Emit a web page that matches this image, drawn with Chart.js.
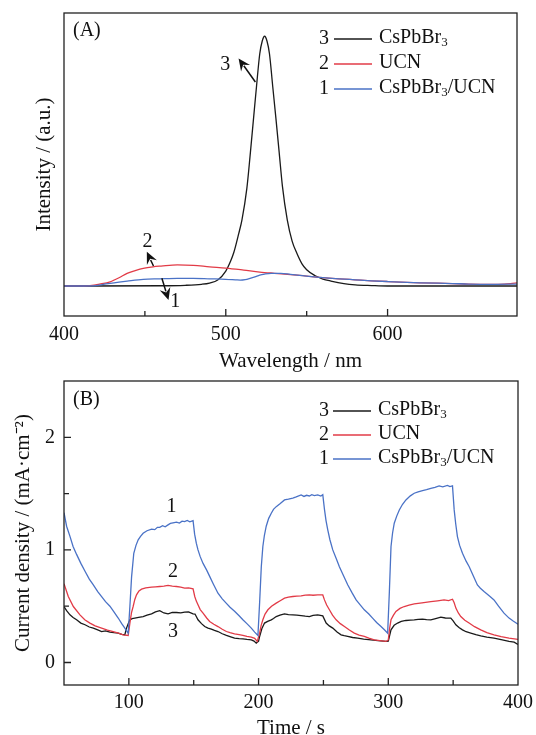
<!DOCTYPE html>
<html>
<head>
<meta charset="utf-8">
<script src="https://cdn.jsdelivr.net/npm/chart.js@4.4.1/dist/chart.umd.min.js"></script>
<style>
html, body { margin: 0; padding: 0; background: #fff; }
#wrapA { position: absolute; left: 0; top: 0; width: 536px; height: 376px; }
#wrapB { position: absolute; left: 0; top: 368px; width: 536px; height: 367px; }
</style>
</head>
<body>
<div id="wrapA"><canvas id="chartA"></canvas></div>
<div id="wrapB"><canvas id="chartB"></canvas></div>
<script>
// ---- (A) PL spectra ----
const plBlackX = [400, 460, 475, 485, 490, 495, 500, 503, 505, 508, 510, 513, 515, 517, 519, 521, 522.5, 524, 525.5, 527, 529, 531, 533, 535, 538, 541, 544, 547, 550, 555, 560, 565, 573, 580, 590, 600, 680];
const plBlackY = [0, 0.001, 0.003, 0.007, 0.012, 0.024, 0.06, 0.1, 0.135, 0.21, 0.265, 0.39, 0.52, 0.66, 0.8, 0.93, 0.98, 1.0, 0.98, 0.93, 0.8, 0.67, 0.535, 0.4, 0.265, 0.18, 0.13, 0.09, 0.065, 0.042, 0.028, 0.02, 0.01, 0.005, 0.002, 0, 0];

const plRedX = [400, 410, 416, 422, 428.5, 434, 439, 444, 449, 455, 460, 470, 480, 490, 500, 511, 521, 530, 540, 550, 558, 570, 580, 590, 600, 620, 640, 650, 665, 672, 676, 680];
const plRedY = [0, 0, 0.002, 0.008, 0.017, 0.033, 0.051, 0.062, 0.071, 0.077, 0.08, 0.085, 0.083, 0.077, 0.072, 0.064, 0.056, 0.051, 0.046, 0.04, 0.035, 0.029, 0.025, 0.021, 0.018, 0.013, 0.01, 0.008, 0.007, 0.008, 0.01, 0.013];

const plBlueX = [400, 418, 423, 428.5, 434, 439, 449, 459, 470, 480, 490, 500, 506, 509, 512, 515, 518, 521, 524, 528, 534, 540, 550, 558, 570, 580, 590, 600, 620, 640, 650, 665, 680];
const plBlueY = [0, 0.001, 0.005, 0.011, 0.016, 0.02, 0.027, 0.029, 0.031, 0.031, 0.029, 0.027, 0.025, 0.024, 0.026, 0.031, 0.037, 0.044, 0.048, 0.051, 0.051, 0.047, 0.04, 0.035, 0.029, 0.025, 0.021, 0.018, 0.013, 0.01, 0.008, 0.007, 0.008];

// ---- (B) photocurrent ----
const jBlueT = [50, 52, 54.6, 57, 59.7, 63, 66.2, 69.5, 72.6, 76, 79, 82, 85.4, 88.5, 91.8, 94.5, 96.9, 99.5,
  100.8, 102.1, 103.8, 105.5, 107.2, 109, 111, 114, 117.5, 120, 122, 123.8, 126, 128, 130.2, 132, 134, 136.7, 139, 141, 143, 145, 147, 149.5,
  150.7, 152, 153.3, 155, 157.2, 160, 162.3, 165, 168.7, 172, 175.2, 178, 181.5, 185, 187.9, 191, 194.4, 197, 199.5,
  200.8, 202.1, 203.3, 204.5, 205.9, 207.8, 209.8, 211.5, 213.6, 216.5, 220, 223, 226.4, 229, 232.8, 235, 237, 239.2, 241, 243, 245.6, 248, 249.5,
  250.8, 252, 253.3, 255, 257.2, 260, 262.3, 265.5, 268.7, 272, 275.2, 278.5, 281.5, 285, 287.9, 291, 294.4, 297, 299.5,
  300.8, 302.1, 303.3, 304.6, 306.5, 308.5, 311, 313.6, 317, 320, 323, 326.4, 329.5, 332.8, 336, 339.2, 342, 345.6, 347.5, 349.5,
  350.8, 352, 353.3, 355, 357.2, 360, 362.3, 365.5, 368.7, 371, 373.8, 378, 381.5, 385, 389.2, 393.1, 396, 400];
const jBlue = [1.33, 1.21, 1.12, 1.03, 0.96, 0.88, 0.81, 0.74, 0.69, 0.63, 0.585, 0.54, 0.50, 0.45, 0.395, 0.345, 0.305, 0.26,
  0.50, 0.76, 0.97, 1.04, 1.09, 1.12, 1.148, 1.17, 1.185, 1.18, 1.20, 1.2, 1.215, 1.205, 1.222, 1.235, 1.24, 1.246, 1.238, 1.255, 1.251, 1.262, 1.25, 1.26,
  1.14, 1.06, 1.0, 0.94, 0.88, 0.82, 0.765, 0.70, 0.615, 0.565, 0.525, 0.49, 0.455, 0.415, 0.38, 0.345, 0.305, 0.27, 0.24,
  0.53, 0.85, 1.03, 1.13, 1.21, 1.28, 1.326, 1.36, 1.384, 1.41, 1.444, 1.45, 1.46, 1.47, 1.488, 1.475, 1.485, 1.479, 1.49, 1.482, 1.488, 1.478, 1.49,
  1.36, 1.26, 1.18, 1.09, 1.0, 0.92, 0.85, 0.77, 0.69, 0.62, 0.556, 0.51, 0.468, 0.43, 0.394, 0.355, 0.32, 0.29, 0.26,
  0.62, 1.03, 1.15, 1.237, 1.3, 1.355, 1.405, 1.444, 1.48, 1.503, 1.515, 1.526, 1.535, 1.547, 1.555, 1.568, 1.56, 1.572, 1.562, 1.568,
  1.355, 1.23, 1.118, 1.04, 0.97, 0.9, 0.852, 0.77, 0.689, 0.66, 0.63, 0.59, 0.556, 0.5, 0.438, 0.394, 0.37, 0.34];

const jRedT = [50, 53.3, 57.2, 62.3, 66, 70, 74, 79, 83.5, 87.9, 92, 95.6, 99.5,
  100.8, 102, 103.3, 104.6, 105.9, 107.8, 109.8, 113, 117.5, 120.5, 123.8, 127, 130.2, 133.5, 136.7, 140, 143, 146, 149.5,
  150.8, 152, 153.3, 155, 157.2, 160, 162.3, 165.5, 168.7, 172, 175.2, 178, 181.5, 185, 187.9, 191, 194.4, 197, 199,
  200.8, 202, 203.3, 205, 207.2, 210, 213.6, 217, 220, 223, 226.4, 229.5, 232.8, 236, 239.2, 242, 245.6, 249.5,
  250.8, 252.5, 254.6, 257, 259.8, 263, 266.2, 270, 273.8, 277.5, 281.5, 285, 289.2, 293.5, 298.2,
  300, 301, 302.1, 304, 305.9, 309, 312.3, 316, 320, 326, 332.8, 338, 343, 346.5, 349.5,
  350.8, 352.1, 354, 355.9, 359, 362.3, 366.5, 371.3, 376, 381.5, 387, 393.1, 400];
const jRed = [0.70, 0.586, 0.497, 0.423, 0.38, 0.35, 0.325, 0.305, 0.288, 0.275, 0.26, 0.246, 0.24,
  0.35, 0.44, 0.497, 0.56, 0.601, 0.635, 0.651, 0.662, 0.669, 0.672, 0.675, 0.678, 0.684, 0.678, 0.675, 0.67, 0.66, 0.662, 0.654,
  0.586, 0.545, 0.512, 0.47, 0.438, 0.395, 0.364, 0.34, 0.319, 0.295, 0.275, 0.265, 0.255, 0.247, 0.24, 0.232, 0.225, 0.215, 0.187,
  0.261, 0.33, 0.379, 0.43, 0.468, 0.5, 0.527, 0.55, 0.571, 0.58, 0.586, 0.59, 0.592, 0.598, 0.601, 0.597, 0.601, 0.6,
  0.556, 0.51, 0.468, 0.42, 0.379, 0.345, 0.319, 0.288, 0.261, 0.244, 0.231, 0.216, 0.201, 0.195, 0.187,
  0.2, 0.3, 0.379, 0.42, 0.453, 0.48, 0.497, 0.51, 0.521, 0.53, 0.541, 0.548, 0.556, 0.55, 0.562,
  0.53, 0.483, 0.44, 0.408, 0.375, 0.35, 0.318, 0.29, 0.265, 0.246, 0.23, 0.216, 0.205];

const jBlackT = [50, 52, 54.6, 57, 59.7, 63, 66.2, 69.5, 72.6, 76, 79, 82, 85.4, 88.5, 91.8, 94.5, 96.9,
  98.2, 99.5, 100.8, 102.5, 104.6, 107.5, 111, 114, 117.5, 120.5, 123.8, 127, 130.2, 133.5, 136.7, 140, 143, 146, 149.5,
  151, 153.3, 156, 158.5, 161, 163.6, 166, 168.7, 172, 175.2, 178.5, 181.5, 185, 187.9, 191, 194.4, 196.5, 198.2,
  200, 200.8, 202.5, 204.6, 207, 209.8, 211.5, 213.6, 216.5, 220, 223, 226.4, 229.5, 232.8, 236, 239.2, 242, 245.6, 249.5,
  252.1, 254.5, 257.2, 260.5, 263.6, 266, 268.7, 272.5, 276.4, 281, 286.7, 292, 298.2,
  300, 302.1, 304.5, 307.2, 310, 313.6, 317, 320, 323, 326.4, 329.5, 332.8, 336.5, 340.5, 344, 348.2,
  350, 352.1, 354.5, 357.2, 360, 363.6, 367.5, 371.3, 376, 381.5, 387, 393.1, 397, 400];
const jBlack = [0.497, 0.46, 0.423, 0.4, 0.379, 0.35, 0.335, 0.315, 0.305, 0.29, 0.275, 0.28, 0.27, 0.265, 0.261, 0.25, 0.246,
  0.305, 0.345, 0.379, 0.39, 0.394, 0.4, 0.408, 0.42, 0.432, 0.45, 0.461, 0.44, 0.432, 0.445, 0.444, 0.44, 0.447, 0.45, 0.432,
  0.43, 0.379, 0.345, 0.319, 0.305, 0.296, 0.285, 0.275, 0.255, 0.24, 0.228, 0.216, 0.212, 0.21, 0.205, 0.201, 0.19, 0.172,
  0.19, 0.231, 0.3, 0.35, 0.365, 0.379, 0.39, 0.408, 0.42, 0.432, 0.425, 0.423, 0.42, 0.417, 0.412, 0.408, 0.418, 0.423, 0.414,
  0.35, 0.325, 0.305, 0.27, 0.246, 0.238, 0.231, 0.222, 0.216, 0.208, 0.201, 0.195, 0.187,
  0.19, 0.29, 0.33, 0.35, 0.365, 0.373, 0.377, 0.379, 0.382, 0.385, 0.38, 0.379, 0.39, 0.402, 0.395, 0.394,
  0.37, 0.335, 0.31, 0.29, 0.273, 0.261, 0.248, 0.237, 0.226, 0.216, 0.203, 0.187, 0.18, 0.16];

const seriesNames = ['CsPbBr_3', 'UCN', 'CsPbBr_3/UCN'];
const seriesNums = ['3', '2', '1'];

const BLACK = '#1a1a1a';
const RED = '#e23b47';
const BLUE = '#4a72c6';
const FAM = '"Liberation Serif", "Times New Roman", serif';

Chart.defaults.font.family = FAM;
Chart.defaults.font.size = 20;
Chart.defaults.color = '#111';

function pts(xs, ys) {
  return xs.map((x, i) => ({ x: x, y: ys[i] }));
}

// text with "_3" style subscripts
function richText(ctx, str, x, y, size) {
  str.split(/(_\d)/).forEach(p => {
    if (!p) return;
    if (p[0] === '_') {
      ctx.font = Math.round(size * 0.65) + 'px ' + FAM;
      ctx.fillText(p[1], x, y + size * 0.25);
      x += ctx.measureText(p[1]).width;
    } else {
      ctx.font = size + 'px ' + FAM;
      ctx.fillText(p, x, y);
      x += ctx.measureText(p).width;
    }
  });
}

const deco = {
  id: 'deco',
  afterDraw(chart, args, o) {
    const ctx = chart.ctx;
    const a = chart.chartArea;
    const sx = chart.scales.x, sy = chart.scales.y;
    ctx.save();
    ctx.strokeStyle = '#222';
    ctx.lineWidth = 1.3;
    ctx.strokeRect(a.left, a.top, a.right - a.left, a.bottom - a.top);

    // inward ticks
    ctx.beginPath();
    sx.ticks.forEach(t => {
      const v = t.value;
      if (v % 50 !== 0 || v <= sx.min || v >= sx.max) return;
      const px = sx.getPixelForValue(v);
      const len = v % 100 === 0 ? 7 : 5;
      ctx.moveTo(px, a.bottom);
      ctx.lineTo(px, a.bottom - len);
    });
    if (o.yTicks) {
      sy.ticks.forEach(t => {
        const v = t.value;
        if (Math.abs(v * 2 - Math.round(v * 2)) > 1e-6 || v <= sy.min || v >= sy.max) return;
        const py = sy.getPixelForValue(v);
        const len = Math.abs(v - Math.round(v)) < 1e-6 ? 7 : 5;
        ctx.moveTo(a.left, py);
        ctx.lineTo(a.left + len, py);
      });
    }
    ctx.stroke();

    ctx.fillStyle = '#111';
    ctx.textBaseline = 'middle';

    // panel tag
    ctx.font = '20px ' + FAM;
    ctx.textAlign = 'left';
    ctx.fillText(o.tag, a.left + 9, a.top + o.tagDy);

    // legend
    const lg = o.legend;
    chart.data.datasets.slice().reverse().forEach((ds, i) => {
      const y = a.top + lg.rows[i];
      ctx.textAlign = 'right';
      ctx.font = '20px ' + FAM;
      ctx.fillText(seriesNums[i], lg.numX, y + 1);
      ctx.strokeStyle = ds.borderColor;
      ctx.lineWidth = 1.5;
      ctx.beginPath();
      ctx.moveTo(lg.x1, y + 1);
      ctx.lineTo(lg.x2, y + 1);
      ctx.stroke();
      ctx.textAlign = 'left';
      richText(ctx, seriesNames[i], lg.textX, y, 20);
    });

    // curve numbers
    ctx.textAlign = 'center';
    ctx.font = '20px ' + FAM;
    o.notes.forEach(n => {
      ctx.fillText(n.text, sx.getPixelForValue(n.x), sy.getPixelForValue(n.y));
    });

    // arrows
    ctx.strokeStyle = '#111';
    ctx.lineWidth = 1.5;
    (o.arrows || []).forEach(ar => {
      const x1 = sx.getPixelForValue(ar.x1), y1 = sy.getPixelForValue(ar.y1);
      const x2 = sx.getPixelForValue(ar.x2), y2 = sy.getPixelForValue(ar.y2);
      const ang = Math.atan2(y2 - y1, x2 - x1);
      const hl = 12, hw = 5.5;
      const bx = x2 - hl * Math.cos(ang), by = y2 - hl * Math.sin(ang);
      ctx.beginPath();
      ctx.moveTo(x1, y1);
      ctx.lineTo(bx + 3 * Math.cos(ang), by + 3 * Math.sin(ang));
      ctx.stroke();
      ctx.beginPath();
      ctx.moveTo(x2, y2);
      ctx.lineTo(bx + hw * Math.sin(ang), by - hw * Math.cos(ang));
      ctx.lineTo(bx + 0.35 * hl * Math.cos(ang), by + 0.35 * hl * Math.sin(ang));
      ctx.lineTo(bx - hw * Math.sin(ang), by + hw * Math.cos(ang));
      ctx.closePath();
      ctx.fill();
    });
    ctx.restore();
  }
};

function lineSet(data, color, smooth) {
  return {
    data: data,
    borderColor: color,
    borderWidth: 1.3,
    pointRadius: 0,
    fill: false,
    tension: smooth ? 0.4 : 0,
    cubicInterpolationMode: smooth ? 'monotone' : 'default'
  };
}

function fixAxis(prop, size) {
  return s => {
    s[prop] = size;
    s.paddingLeft = 0;
    s.paddingRight = 0;
    s.paddingTop = 0;
    s.paddingBottom = 0;
  };
}

new Chart(document.getElementById('chartA').getContext('2d'), {
  type: 'line',
  data: {
    datasets: [
      lineSet(pts(plBlueX, plBlueY), BLUE, true),
      lineSet(pts(plRedX, plRedY), RED, true),
      lineSet(pts(plBlackX, plBlackY), BLACK, true)
    ]
  },
  options: {
    responsive: true,
    maintainAspectRatio: false,
    animation: false,
    devicePixelRatio: 1,
    layout: { padding: { top: 13, right: 19, left: 0, bottom: 0 } },
    plugins: {
      legend: { display: false },
      tooltip: { enabled: false },
      deco: {
        tag: '(A)',
        tagDy: 18,
        legend: { rows: [25, 50, 75], numX: 329, x1: 334, x2: 372, textX: 379 },
        notes: [
          { text: '3', x: 499.7, y: 0.884 },
          { text: '2', x: 451.6, y: 0.177 },
          { text: '1', x: 468.7, y: -0.063 }
        ],
        arrows: [
          { x1: 518.3, y1: 0.817, x2: 507.9, y2: 0.911 },
          { x1: 455.3, y1: 0.08, x2: 451.2, y2: 0.137 },
          { x1: 460.5, y1: 0.031, x2: 464.6, y2: -0.056 }
        ]
      }
    },
    scales: {
      x: {
        type: 'linear',
        min: 400,
        max: 680,
        ticks: { stepSize: 50, padding: 7, maxRotation: 0, autoSkip: false, callback: v => (v % 100 === 0 ? v : '') },
        grid: { display: false, drawTicks: false },
        border: { display: false },
        title: { display: true, text: 'Wavelength / nm', padding: { top: 0, bottom: 4 }, font: { size: 21, lineHeight: 1 } },
        afterFit: fixAxis('height', 60)
      },
      y: {
        min: -0.12,
        max: 1.093,
        ticks: { display: false },
        grid: { display: false, drawTicks: false },
        border: { display: false },
        title: { display: true, text: 'Intensity / (a.u.)', padding: { top: 33.5, bottom: 0 }, font: { size: 21, lineHeight: 1 } },
        afterFit: fixAxis('width', 64)
      }
    }
  },
  plugins: [deco]
});

new Chart(document.getElementById('chartB').getContext('2d'), {
  type: 'line',
  data: {
    datasets: [
      lineSet(pts(jBlueT, jBlue), BLUE, false),
      lineSet(pts(jRedT, jRed), RED, false),
      lineSet(pts(jBlackT, jBlack), BLACK, false)
    ]
  },
  options: {
    responsive: true,
    maintainAspectRatio: false,
    animation: false,
    devicePixelRatio: 1,
    layout: { padding: { top: 13, right: 18, left: 0, bottom: 0 } },
    plugins: {
      legend: { display: false },
      tooltip: { enabled: false },
      deco: {
        tag: '(B)',
        tagDy: 19,
        yTicks: true,
        legend: { rows: [29, 53, 77], numX: 329, x1: 333, x2: 371, textX: 378 },
        notes: [
          { text: '1', x: 132.8, y: 1.384 },
          { text: '2', x: 134, y: 0.807 },
          { text: '3', x: 134, y: 0.275 }
        ]
      }
    },
    scales: {
      x: {
        type: 'linear',
        min: 50,
        max: 400,
        ticks: { stepSize: 50, padding: 6, maxRotation: 0, autoSkip: false, callback: v => (v % 100 === 0 ? v : '') },
        grid: { display: false, drawTicks: false },
        border: { display: false },
        title: { display: true, text: 'Time / s', padding: { top: 0, bottom: -4 }, font: { size: 21, lineHeight: 1 } },
        afterFit: fixAxis('height', 50)
      },
      y: {
        min: -0.2,
        max: 2.5,
        ticks: { stepSize: 0.5, padding: 9, autoSkip: false, callback: v => (Math.abs(v - Math.round(v)) < 1e-6 ? Math.round(v) : '') },
        grid: { display: false, drawTicks: false },
        border: { display: false },
        title: { display: true, text: 'Current density / (mA·cm⁻²)', padding: { top: 12.5, bottom: 0 }, font: { size: 21, lineHeight: 1 } },
        afterFit: fixAxis('width', 64)
      }
    }
  },
  plugins: [deco]
});
</script>
</body>
</html>
